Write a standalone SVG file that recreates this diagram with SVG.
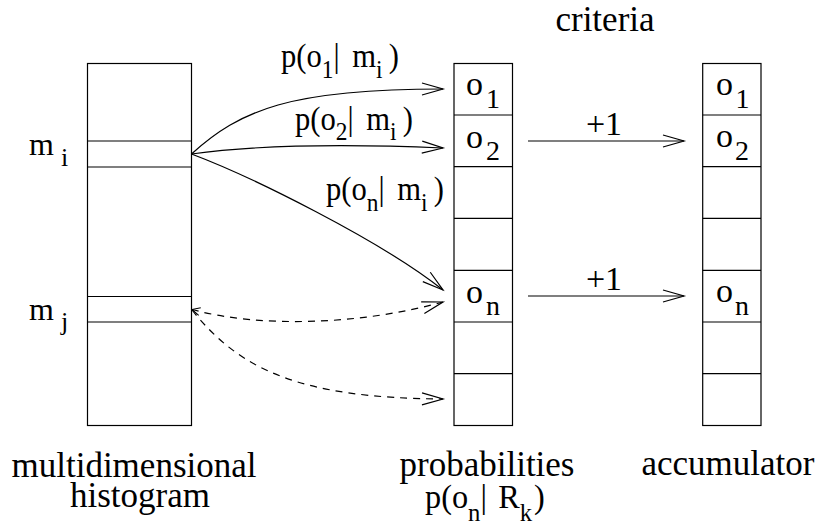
<svg xmlns="http://www.w3.org/2000/svg" width="822" height="529" viewBox="0 0 822 529" font-family="'Liberation Serif', 'DejaVu Serif', serif">
<style>
  .box{fill:none;stroke:#000;stroke-width:1.2}
  .div{stroke:#000;stroke-width:1.2}
  .t{font-family:'Liberation Serif','DejaVu Serif',serif;fill:#000}
  .main{font-size:34px}
  .sub{font-size:26px}
  .csub{font-size:28px}
  .con{fill:none;stroke:#000;stroke-width:1.2}
  .dash{stroke-dasharray:7,6}
</style>
<defs>
  <marker id="head" markerUnits="userSpaceOnUse" markerWidth="24" markerHeight="16" viewBox="-22 -8 24 16" refX="0" refY="0" orient="auto" overflow="visible">
    <path d="M-21,-6 L0,0 L-21,6" fill="none" stroke="#000" stroke-width="1.2"/>
  </marker>
  <marker id="headS" markerUnits="userSpaceOnUse" markerWidth="12" markerHeight="12" viewBox="-10 -6 12 12" refX="0" refY="0" orient="auto-start-reverse" overflow="visible">
    <path d="M-8,-4 L0,0 L-8,4" fill="none" stroke="#000" stroke-width="1.1"/>
  </marker>
</defs>
<rect width="822" height="529" fill="#fff"/>

<g id="histogram">
  <rect class="box" x="87.5" y="63.5" width="104" height="362"/>
  <line class="div" x1="87.5" y1="141" x2="191.5" y2="141"/>
  <line class="div" x1="87.5" y1="167" x2="191.5" y2="167"/>
  <line class="div" x1="87.5" y1="296.5" x2="191.5" y2="296.5"/>
  <line class="div" x1="87.5" y1="322" x2="191.5" y2="322"/>
  <text class="t" x="29" y="155" font-size="32">m</text>
  <text class="t sub" x="61" y="166">i</text>
  <text class="t" x="29" y="320" font-size="32">m</text>
  <text class="t sub" x="61" y="330">j</text>
  <text class="t" x="134" y="477" text-anchor="middle" font-size="35">multidimensional</text>
  <text class="t" x="140" y="507" text-anchor="middle" font-size="35">histogram</text>
</g>

<g id="probabilities">
  <rect class="box" x="454" y="63.5" width="58.5" height="362"/>
  <line class="div" x1="454" y1="115" x2="512.5" y2="115"/>
  <line class="div" x1="454" y1="166.7" x2="512.5" y2="166.7"/>
  <line class="div" x1="454" y1="218.3" x2="512.5" y2="218.3"/>
  <line class="div" x1="454" y1="270.3" x2="512.5" y2="270.3"/>
  <line class="div" x1="454" y1="322" x2="512.5" y2="322"/>
  <line class="div" x1="454" y1="373.7" x2="512.5" y2="373.7"/>
  <text class="t main" x="466" y="95">o<tspan class="csub" x="486" y="108">1</tspan></text>
  <text class="t main" x="466" y="148">o<tspan class="csub" x="486" y="160">2</tspan></text>
  <text class="t main" x="466" y="303">o<tspan class="csub" x="486" y="315">n</tspan></text>
  <text class="t" x="487" y="476" text-anchor="middle" font-size="35">probabilities</text>
  <text class="t main" transform="translate(425,508) scale(0.95,1)">p(o<tspan class="sub" dy="13">n</tspan><tspan dy="-13">|</tspan><tspan dx="12">R</tspan><tspan class="sub" dy="13">k</tspan><tspan dy="-13" dx="2">)</tspan></text>
</g>

<g id="accumulator">
  <rect class="box" x="702.7" y="63.5" width="58.3" height="362"/>
  <line class="div" x1="702.7" y1="115" x2="761" y2="115"/>
  <line class="div" x1="702.7" y1="166.7" x2="761" y2="166.7"/>
  <line class="div" x1="702.7" y1="218.3" x2="761" y2="218.3"/>
  <line class="div" x1="702.7" y1="270.3" x2="761" y2="270.3"/>
  <line class="div" x1="702.7" y1="322" x2="761" y2="322"/>
  <line class="div" x1="702.7" y1="373.7" x2="761" y2="373.7"/>
  <text class="t main" x="716" y="95">o<tspan class="csub" x="735.5" y="108">1</tspan></text>
  <text class="t main" x="716" y="147">o<tspan class="csub" x="735" y="160">2</tspan></text>
  <text class="t main" x="716" y="302">o<tspan class="csub" x="735" y="315">n</tspan></text>
  <text class="t" x="728" y="475" text-anchor="middle" font-size="35">accumulator</text>
  <text class="t" x="605" y="31" text-anchor="middle" font-size="35">criteria</text>
</g>

<g id="connectors">
  <path class="con" d="M191.5,154 C240,110 290,89 443,89" marker-end="url(#head)"/>
  <path class="con" d="M191.5,154 C250,146 330,143 443,148" marker-end="url(#head)"/>
  <path class="con" d="M191.5,154 C250,176 380,240 443,290" marker-end="url(#head)"/>
  <path class="con dash" d="M192,309.5 C260,328 360,325 443,302" marker-start="url(#headS)" marker-end="url(#head)"/>
  <path class="con dash" d="M192,310 C240,370 300,398 443,399" marker-end="url(#head)"/>
  <line class="con" x1="528" y1="141" x2="684" y2="141" marker-end="url(#head)"/>
  <line class="con" x1="528" y1="296" x2="684" y2="296" marker-end="url(#head)"/>
  <text class="t main" x="604" y="135" text-anchor="middle">+1</text>
  <text class="t main" x="604" y="290" text-anchor="middle">+1</text>
  <text class="t main" transform="translate(281,67) scale(0.9,1)">p(o<tspan class="sub" dy="11">1</tspan><tspan dy="-11">|</tspan><tspan dx="14">m</tspan><tspan class="sub" dy="11">i</tspan><tspan dy="-11" dx="7">)</tspan></text>
  <text class="t main" transform="translate(295,130) scale(0.9,1)">p(o<tspan class="sub" dy="10">2</tspan><tspan dy="-10">|</tspan><tspan dx="14">m</tspan><tspan class="sub" dy="10">i</tspan><tspan dy="-10" dx="7">)</tspan></text>
  <text class="t main" transform="translate(326,200) scale(0.9,1)">p(o<tspan class="sub" dy="11">n</tspan><tspan dy="-11">|</tspan><tspan dx="14">m</tspan><tspan class="sub" dy="11">i</tspan><tspan dy="-11" dx="7">)</tspan></text>
</g>
</svg>
